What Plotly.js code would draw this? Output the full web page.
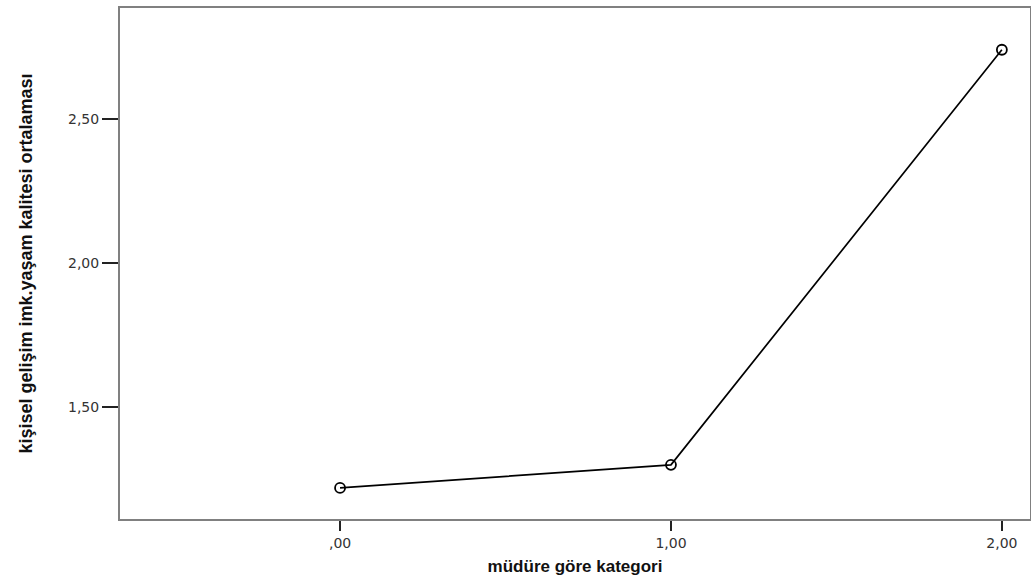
<!DOCTYPE html>
<html>
<head>
<meta charset="utf-8">
<script src="https://cdn.plot.ly/plotly-3.0.1.min.js"></script>
<style>html,body{margin:0;padding:0;background:#fff;}#chart{width:1031px;height:584px;}</style>
</head>
<body>
<div id="chart"></div>
<script>
const categories = [0, 1, 2];
const categoryLabels = [",00", "1,00", "2,00"];
const means = [1.219, 1.299, 2.74];
const yTickVals = [1.5, 2.0, 2.5];
const yTickLabels = ["1,50", "2,00", "2,50"];

const trace = {
  x: categories,
  y: means,
  type: "scatter",
  mode: "lines+markers",
  line: {color: "#000", width: 1.7},
  marker: {symbol: "circle-open", size: 10, color: "#000", line: {width: 1.8, color: "#000"}},
  hoverinfo: "skip"
};

const layout = {
  width: 1031, height: 584,
  margin: {l: 120, r: 1, t: 8, b: 65},
  paper_bgcolor: "#fff", plot_bgcolor: "#fff",
  showlegend: false,
  font: {family: "Arial, 'Liberation Sans', sans-serif", color: "#222", size: 13},
  xaxis: {
    range: [-0.665, 2.085],
    tickvals: categories, ticktext: categoryLabels,
    ticks: "outside", ticklen: 10, tickwidth: 1.5, tickcolor: "#222",
    showgrid: false, zeroline: false,
    showline: true, linecolor: "#808080", linewidth: 2, mirror: true,
    tickfont: {size: 14, color: "#333", family: "'DejaVu Sans', sans-serif"},
    title: {text: "müdüre göre kategori", font: {size: 17, color: "#111", family: "Arial, 'Liberation Sans', sans-serif", weight: "bold"}, standoff: 10}
  },
  yaxis: {
    range: [1.111, 2.885],
    tickvals: yTickVals, ticktext: yTickLabels,
    ticks: "outside", ticklen: 16, tickwidth: 1.5, tickcolor: "#222",
    showgrid: false, zeroline: false,
    showline: true, linecolor: "#808080", linewidth: 2, mirror: true,
    tickfont: {size: 14, color: "#333", family: "'DejaVu Sans', sans-serif"},
    title: {text: "kişisel gelişim imk.yaşam kalitesi ortalaması", font: {size: 18, color: "#111", family: "Arial, 'Liberation Sans', sans-serif", weight: "bold"}, standoff: 31}
  }
};

Plotly.newPlot("chart", [trace], layout, {displayModeBar: false, staticPlot: true});
</script>
</body>
</html>
